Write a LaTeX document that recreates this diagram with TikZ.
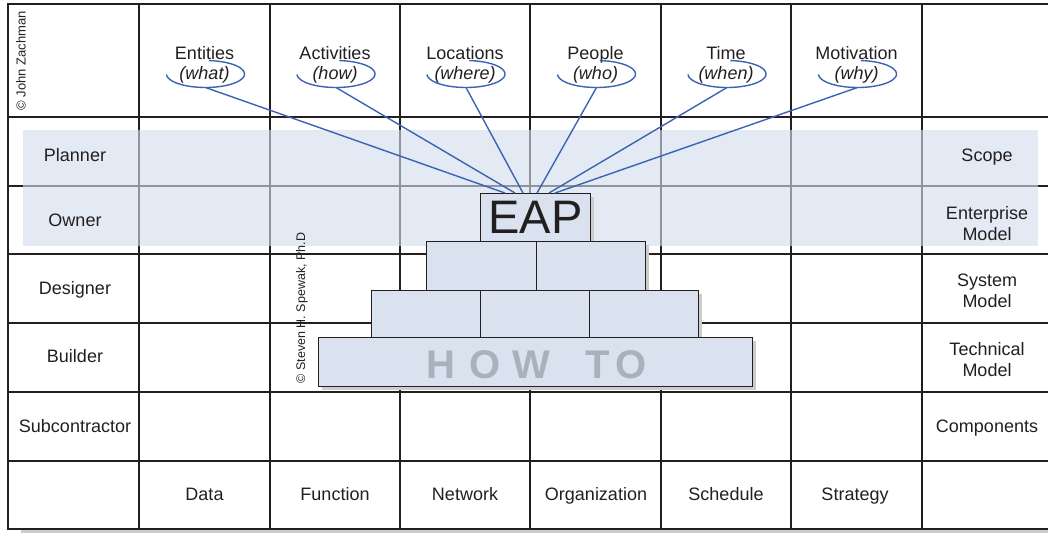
\documentclass[tikz,border=0pt]{standalone}
\usepackage{fontspec}
\setmainfont{Liberation Sans}
\usetikzlibrary{calc,shadows}
\definecolor{ink}{HTML}{231F20}
\definecolor{bandc}{rgb}{0.823,0.868,0.931}
\definecolor{boxc}{HTML}{D9E2EE}
\definecolor{linkc}{HTML}{3B63B3}
\definecolor{shadowc}{HTML}{CDCDCD}
\definecolor{howc}{HTML}{A9B1BD}
\begin{document}
\begin{tikzpicture}[x=1pt,y=-1pt,
  lbl/.style={font=\fontsize{18}{21}\selectfont, text=ink, align=center, inner sep=0pt, anchor=base},
  qlbl/.style={lbl, font=\fontsize{18}{21}\selectfont\itshape},
  gridline/.style={draw=ink, line width=1.8pt, line cap=rect},
  brick/.style={draw=ink, line width=0.9pt, fill=boxc, anchor=north west, inner sep=0pt,
    drop shadow={shadow xshift=4pt, shadow yshift=-4pt, fill=shadowc, opacity=1}},
  link/.style={draw=linkc, line width=1.4pt},
  ring/.style={draw=linkc, line width=1.4pt},
  note/.style={text=ink, rotate=90, inner sep=0pt},
]
\useasboundingbox (0,0) rectangle (1048,533);
% table shadow
\fill[shadowc] (21,530) rectangle (1048,533);
% grid
\foreach \yy in {4,117,186,254,323,392,461,529} \draw[gridline] (8,\yy) -- (1048,\yy);
\foreach \xx in {8,139,270,400,530,661,791,922} \draw[gridline] (\xx,4) -- (\xx,529);
% band
\fill[bandc, fill opacity=0.62] (23,130) rectangle (1038,246);
% copyright notes
\node[note, font=\fontsize{13}{13}\selectfont] (zach) at (21,61) {© John Zachman};
\node[note, font=\fontsize{12.5}{13}\selectfont] (spew) at (302,308) {© Steven H. Spewak, Ph.D};
% row labels left
\node[lbl] (planner) at (75,161) {Planner};
\node[lbl] (owner) at (75,226.5) {Owner};
\node[lbl] (designer) at (75,294.5) {Designer};
\node[lbl] (builder) at (75,362.5) {Builder};
\node[lbl] (subc) at (75,432.5) {Subcontractor};
% row labels right (base = last line)
\node[lbl] (scope) at (987,161.5) {Scope};
\node[lbl] (entm) at (987,240) {Enterprise\\Model};
\node[lbl] (sysm) at (987,307) {System\\Model};
\node[lbl] (techm) at (987,376) {Technical\\Model};
\node[lbl] (comp) at (987,432.5) {Components};
% bottom row
\node[lbl] (data) at (204.5,500.5) {Data};
\node[lbl] (func) at (335,500.5) {Function};
\node[lbl] (netw) at (465,500.5) {Network};
\node[lbl] (orgn) at (596,500.5) {Organization};
\node[lbl] (sched) at (726,500.5) {Schedule};
\node[lbl] (strat) at (855,500.5) {Strategy};
% pyramid
\node[brick, minimum width=110, minimum height=48, font=\fontsize{47}{47}\selectfont, text=ink] (eap) at (480,193) {EAP};
\node[brick, minimum width=110, minimum height=49] (r2a) at (426,241) {};
\node[brick, minimum width=109, minimum height=49] (r2b) at (536,241) {};
\node[brick, minimum width=109, minimum height=47] (r3a) at (371,290) {};
\node[brick, minimum width=109, minimum height=47] (r3b) at (480,290) {};
\node[brick, minimum width=109, minimum height=47] (r3c) at (589,290) {};
\node[brick, minimum width=434, minimum height=49] (r4) at (318,337) {};
\node[anchor=base west, inner sep=0pt, text=howc, font=\fontsize{40}{40}\selectfont\bfseries] (howto) at (426,378)
  {H\hspace{14pt}O\hspace{12pt}W\hspace{36pt}T\hspace{5pt}O};
% column headers, rings and connectors
\foreach \i/\t/\q/\cx/\ex in {1/Entities/what/204.5/505, 2/Activities/how/335/515, 3/Locations/where/465/523,
    4/People/who/595.5/537, 5/Time/when/726/549, 6/Motivation/why/856.5/555}{
  \node[lbl] (h\i) at (\cx,59.5) {\t};
  \node[qlbl] (q\i) at (\cx,79.5) {(\q)};
  \draw[ring] plot[domain=-85:178, samples=50, smooth] ({\cx+1+39*cos(\x)}, {74+13.5*sin(\x)});
  \coordinate (b\i) at (\cx+1,87.5);
  \coordinate (e\i) at ($(eap.north west)+(\ex-480,0)$);
  \draw[link] (b\i) -- (e\i);
}
\end{tikzpicture}
\end{document}
